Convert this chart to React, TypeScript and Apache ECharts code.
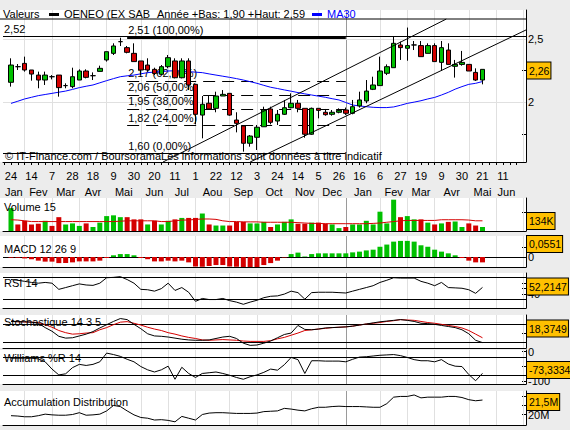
import React, { useEffect, useRef } from 'react';
import * as echarts from 'echarts';

const FONT = '"Liberation Sans", Arial, Helvetica, sans-serif';
const START = Date.UTC(2011, 0, 24);
const WEEK = 7 * 24 * 3600 * 1000;

// ---- price data (weekly candles, 24 Jan 2011 -> 21 May 2012)
const openP = [2.159,2.282,2.308,2.256,2.216,2.177,2.203,2.216,2.133,2.125,
  2.177,2.248,2.211,2.245,2.335,2.387,2.479,2.432,2.387,2.327,
  2.295,2.261,2.222,2.282,2.327,2.195,2.327,2.143,1.901,1.994,
  1.954,2.051,2.072,1.862,1.815,1.679,1.726,1.809,1.949,1.854,
  1.907,1.959,1.994,1.954,1.750,1.954,1.923,1.907,1.923,1.941,
  1.915,1.973,2.012,2.104,2.133,2.230,2.274,2.453,2.427,2.453,
  2.448,2.387,2.448,2.316,2.413,2.285,2.300,2.300,2.237,2.177];
const closeP = [2.295,2.282,2.256,2.224,2.177,2.216,2.203,2.117,2.133,2.203,
  2.248,2.198,2.211,2.269,2.400,2.445,2.479,2.395,2.322,2.256,
  2.256,2.229,2.282,2.353,2.195,2.327,2.138,1.907,1.986,1.949,
  2.051,2.064,1.901,1.836,1.679,1.736,1.805,1.941,1.844,1.907,
  1.959,1.994,1.954,1.750,1.954,1.938,1.904,1.923,1.938,1.915,
  1.967,2.020,2.090,2.138,2.248,2.282,2.466,2.432,2.448,2.453,
  2.361,2.448,2.322,2.432,2.300,2.300,2.316,2.248,2.177,2.261];
const lowP = [2.125,2.256,2.243,2.172,2.112,2.138,2.182,2.046,2.112,2.112,
  2.177,2.190,2.177,2.245,2.322,2.374,2.445,2.387,2.322,2.216,
  2.243,2.216,2.216,2.269,2.190,2.190,2.098,1.828,1.718,1.941,
  1.923,2.051,1.896,1.765,1.613,1.652,1.626,1.809,1.828,1.823,
  1.902,1.954,1.923,1.723,1.745,1.875,1.896,1.896,1.915,1.902,
  1.907,1.960,1.994,2.098,2.133,2.216,2.274,2.335,2.329,2.413,
  2.361,2.387,2.322,2.248,2.300,2.196,2.290,2.248,2.170,2.143];
const highP = [2.348,2.303,2.361,2.256,2.243,2.243,2.216,2.216,2.151,2.274,
  2.261,2.261,2.237,2.290,2.400,2.466,2.510,2.445,2.466,2.327,
  2.348,2.274,2.295,2.374,2.348,2.348,2.348,2.143,2.051,2.051,
  2.085,2.098,2.072,1.923,1.815,1.744,1.823,1.967,1.967,1.941,
  2.020,2.072,2.020,1.954,1.960,1.954,1.949,1.941,1.954,1.960,
  2.020,2.085,2.177,2.203,2.361,2.300,2.518,2.479,2.590,2.484,
  2.484,2.466,2.466,2.484,2.466,2.335,2.406,2.300,2.269,2.261];
const ma30 = [1.993,2.010,2.028,2.041,2.054,2.063,2.072,2.081,2.090,2.103,
  2.117,2.128,2.138,2.155,2.172,2.188,2.203,2.210,2.216,2.226,
  2.235,2.240,2.243,2.248,2.250,2.247,2.243,2.239,2.235,2.225,
  2.216,2.207,2.198,2.188,2.177,2.164,2.151,2.135,2.120,2.110,
  2.099,2.089,2.078,2.068,2.059,2.050,2.041,2.030,2.020,2.000,
  1.980,1.973,1.967,1.962,1.960,1.960,1.965,1.978,1.993,2.003,
  2.014,2.028,2.040,2.059,2.080,2.105,2.125,2.143,2.151,2.165];
// ---- volume (thousands) and its 15-week average
const volumeK = [301,86,134,86,96,134,67,182,86,100,67,100,53,110,196,206,182,182,153,153,
  86,134,86,134,153,172,172,172,230,86,72,72,72,120,120,100,100,120,53,86,
  120,153,96,96,110,110,96,86,38,53,86,86,134,86,254,100,412,182,196,153,
  153,110,86,100,120,125,53,100,72,53];
const volumeMA15 = [148,144,134,124,124,124,124,124,124,124,124,124,124,124,124,124,129,134,134,134,
  134,134,124,124,134,144,144,153,158,158,153,134,124,124,120,120,120,115,115,115,
  115,115,110,105,100,100,96,96,96,96,96,96,96,100,105,115,124,134,139,139,
  139,139,139,148,148,148,148,144,134,134];
// ---- indicators
const macdHist = [-0.003,-0.003,-0.006,-0.009,-0.015,-0.019,-0.019,-0.025,-0.025,-0.022,
  -0.018,-0.018,-0.018,-0.015,-0.004,0.007,0.012,0.012,0.007,-0.004,
  -0.009,-0.018,-0.018,-0.015,-0.018,-0.015,-0.022,-0.039,-0.040,-0.037,
  -0.033,-0.033,-0.039,-0.040,-0.052,-0.051,-0.042,-0.033,-0.025,-0.015,
  -0.002,0.012,0.018,0.002,0.012,0.015,0.015,0.015,0.015,0.015,
  0.019,0.022,0.027,0.030,0.042,0.051,0.063,0.066,0.066,0.063,
  0.048,0.042,0.030,0.022,0.015,0.007,-0.004,-0.015,-0.022,-0.022];
const rsi14 = [66.6,65.3,63.3,61.3,59.9,61.3,59.9,48.6,51.9,55.3,58.6,56.6,55.9,59.9,69.9,70.6,71.9,66.6,59.9,48.6,
  47.9,45.3,49.9,59.9,46.6,51.9,43.3,26.6,31.9,29.9,29.9,31.9,27.9,25.2,21.2,25.2,28.6,33.3,35.9,36.6,
  39.9,45.3,42.6,30.6,42.6,43.3,43.3,43.3,42.6,41.9,45.3,48.6,51.9,55.3,61.3,65.3,69.9,69.3,69.3,69.3,
  63.3,59.9,55.3,61.3,51.9,51.3,50.6,47.9,41.3,52.2];
const stochK = [88.4,87.8,87.2,86.0,82.4,68.0,56.0,39.2,33.2,34.4,40.4,46.4,54.8,66.8,77.6,88.4,98.0,94.4,78.8,64.4,
  47.6,40.4,39.2,36.8,33.2,29.6,27.2,26.0,26.0,27.2,32.0,36.8,39.2,32.0,16.4,9.2,10.4,16.4,23.6,34.4,
  45.2,50.0,75.2,62.0,60.8,63.2,66.8,68.0,69.2,70.4,72.8,76.4,80.0,83.6,87.2,89.6,92.0,94.4,92.0,88.4,
  82.4,81.2,78.8,75.2,71.6,68.0,60.8,47.6,26.0,18.4];
const stochD = [88.4,87.2,86.6,86.0,84.8,77.6,69.2,58.4,51.2,46.4,47.6,50.0,51.2,60.8,68.0,77.6,86.0,87.8,82.4,76.4,
  69.2,63.2,58.4,51.2,46.4,40.4,35.6,32.0,27.2,26.0,27.2,28.4,27.2,26.0,23.6,22.4,22.4,22.4,24.8,30.8,
  35.6,42.8,50.0,58.4,60.8,63.2,65.6,68.0,69.2,70.4,72.8,76.4,80.0,82.4,84.8,88.4,90.8,94.4,93.2,92.0,
  88.4,84.8,82.4,78.8,75.2,71.6,66.8,58.4,46.4,34.4];
const williamsR = [-22.3,-22.3,-22.3,-22.3,-24.7,-34.5,-59.0,-78.6,-74.9,-54.1,-43.1,-46.8,-43.1,-34.5,-5.2,-10.1,-16.2,-26.0,-34.5,-50.5,
  -61.5,-68.8,-61.5,-49.2,-93.3,-52.9,-73.7,-87.2,-73.7,-71.3,-68.8,-73.7,-79.8,-87.2,-93.3,-84.7,-78.6,-70.0,-59.0,-62.7,
  -44.3,-19.8,-27.2,-73.7,-30.9,-30.9,-32.1,-32.1,-32.1,-34.5,-26.0,-18.6,-17.4,-14.9,-12.5,-11.3,-10.1,-13.7,-19.8,-27.2,
  -30.9,-30.9,-34.5,-27.2,-41.9,-49.2,-50.5,-77.4,-98.2,-73.3];
const accDistM = [19.87,19.83,19.75,19.75,19.87,20.04,19.96,19.92,19.92,20.00,20.20,19.92,19.96,20.04,20.40,21.00,20.88,20.40,19.96,19.67,
  19.59,19.39,19.43,19.35,19.19,19.79,19.59,19.39,20.00,20.16,20.20,20.20,20.16,20.12,20.12,20.12,20.16,20.32,20.36,20.40,
  20.68,20.60,20.48,20.40,20.64,20.80,20.80,20.88,20.92,20.88,20.88,20.88,20.84,20.80,20.80,21.20,21.92,22.00,22.00,22.16,
  21.84,21.92,21.92,21.92,22.00,22.00,21.88,21.64,21.52,21.60];

// ---- axis / annotation lists
const dayLabelWeeks = [0,3,6,9,12,15,18,21,24,27,30,33,36,39,42,45,48,51,54,57,60,63,66,69,72];
const monthNames = ['Jan','Fev','Mar','Avr','Mai','Jun','Jul','Aou','Sep','Oct','Nov','Dec'];
const priceTicks = [1.75, 2, 2.25, 2.5];
const priceLabels = [2, 2.5];
const fibPrices = [2.51, 2.17, 2.06, 1.95, 1.82, 1.60];
const fibTexts = ['2,51 (100,00%)', '2,17 (62,00%)', '2,06 (50,00%)', '1,95 (38,00%)', '1,82 (24,00%)', '1,60 (0,00%)'];
const resistance = 2.52;
const fibStartWeek = 17;
const fibEndWeek = 49;
const channelUpper = [[22.25, 1.5315], [63.7, 2.657]];
const channelLower = [[35, 1.5315], [75.37, 2.571]];
const lastValues = ['134K', '0,0551', '52,2147', '18,3749', '-73,3334', '21,5M'];

const XMIN = -1.17;
const XMAX = 75.37;
const TICK_END = 74;
const LEFT = 3;
const RIGHT_EDGE = 526;
const BG = '#ececec';
const GREEN = '#00c000';
const RED = '#d40000';
const YELLOW = '#ffc000';
const GRIDC = '#e0e0e0';

const weekDate = (i: number) => new Date(START + i * WEEK);
const fmt = (v: number | string) => String(v).replace('.', ',');

const PANELS = [
  { top: 10, bottom: 162, min: 1.5315, max: 2.7283 },
  { top: 198, bottom: 231, min: 0, max: 434 },
  { top: 236, bottom: 267, min: -0.041, max: 0.0861 },
  { top: 273, bottom: 308, min: 14.4, max: 78.6 },
  { top: 315, bottom: 348, min: 0.5, max: 109.7 },
  { top: 350, bottom: 384, min: -109.2, max: 5.25 },
  { top: 391, bottom: 425, min: 18.84, max: 22.6 },
];
const boxY = [221, 244, 286.5, 328.5, 370, 402];

function buildMonths() {
  const starts: { i: number; m: number }[] = [];
  for (let i = -6; i <= 80; i++) {
    const d = weekDate(i);
    if (d.getUTCDate() <= 7) starts.push({ i, m: d.getUTCMonth() });
  }
  const gridWeeks = starts.filter(s => s.i > XMIN && s.i < XMAX);
  const labels: { pos: number; name: string }[] = [];
  for (let k = 0; k < starts.length - 1; k++) {
    const a = Math.max(starts[k].i, XMIN);
    const b = Math.min(starts[k + 1].i, TICK_END);
    if (b > a) labels.push({ pos: (a + b) / 2, name: monthNames[starts[k].m] });
  }
  return { gridWeeks, labels };
}

export default function App() {
  const ref = useRef<HTMLDivElement>(null);
  useEffect(() => {
    if (!ref.current) return;
    const chart = echarts.init(ref.current, null, { renderer: 'svg' });
    const n = closeP.length;
    const idx = closeP.map((_, i) => i);
    const { gridWeeks, labels } = buildMonths();
    const monthMap: Record<string, string> = {};
    labels.forEach(l => { monthMap[l.pos.toFixed(3)] = l.name; });
    const weekTicks: number[] = [];
    for (let i = -1; i <= TICK_END; i++) weekTicks.push(i);

    const vGrid = gridWeeks.map(s => ({
      xAxis: s.i,
      lineStyle: { color: s.m === 0 ? '#9a9a9a' : GRIDC, width: 1, type: 'solid' },
    }));

    const grids = PANELS.map(p => ({
      left: LEFT, width: RIGHT_EDGE - LEFT, top: p.top, height: p.bottom - p.top,
      show: false, containLabel: false,
    }));

    const xAxes: any[] = PANELS.map((p, g) => ({
      type: 'value', gridIndex: g, min: XMIN, max: XMAX,
      splitLine: { show: false },
      axisLine: { show: true, onZero: false, lineStyle: { color: '#000', width: 1 } },
      axisTick: g === 0
        ? { show: true, customValues: weekTicks, length: 3, lineStyle: { color: '#000' } }
        : { show: false },
      axisLabel: g === 0
        ? {
            show: true, customValues: dayLabelWeeks, margin: 8,
            color: '#000', fontSize: 11, fontFamily: FONT,
            formatter: (v: number) => String(weekDate(Math.round(v)).getUTCDate()),
          }
        : { show: false },
    }));
    xAxes.push({
      type: 'value', gridIndex: 0, min: XMIN, max: XMAX, position: 'bottom', offset: 16,
      splitLine: { show: false }, axisLine: { show: false }, axisTick: { show: false },
      axisLabel: {
        show: true, customValues: labels.map(l => l.pos), margin: 8,
        color: '#000', fontSize: 11, fontFamily: FONT,
        formatter: (v: number) => monthMap[v.toFixed(3)] || '',
      },
    });

    const yTicks: number[][] = [priceTicks, [250], [-0.04, 0, 0.04], [40, 50, 60], [20, 50, 80], [-100, -50, 0], [20, 21, 22]];
    const yLabels: number[][] = [priceLabels, [], [0], [40], [], [0, -100], [20]];
    const yFmt = [(v: number) => fmt(v), (v: number) => String(v), (v: number) => fmt(v), (v: number) => String(v),
      (v: number) => String(v), (v: number) => String(v), (v: number) => v + 'M'];
    const yAxes = PANELS.map((p, g) => ({
      type: 'value', gridIndex: g, position: 'right', min: p.min, max: p.max,
      splitLine: { show: false },
      axisLine: { show: true, onZero: false, lineStyle: { color: '#000', width: 1 } },
      axisTick: { show: true, inside: true, length: 4, customValues: yTicks[g], lineStyle: { color: '#000' } },
      axisLabel: yLabels[g].length
        ? { show: true, customValues: yLabels[g], margin: 2, color: '#000', fontSize: 11, fontFamily: FONT, formatter: yFmt[g] }
        : { show: false },
    }));

    const black = { color: '#000', width: 1, type: 'solid' };
    const dashed = { color: '#000', width: 1, type: [12, 7] };
    const fibLabel = (t: string) => ({
      show: true, position: 'insideStartTop', formatter: t, color: '#000',
      fontSize: 11, fontFamily: FONT, distance: [1, 2],
    });
    const fibLines: any[] = [
      [{ coord: [XMIN, resistance], lineStyle: black, label: fibLabel('2,52') }, { coord: [XMAX, resistance] }],
    ];
    fibPrices.forEach((p, k) => {
      const style = k === 0 ? { color: '#000', width: 2, type: 'solid' } : k === fibPrices.length - 1 ? black : dashed;
      if (k === fibPrices.length - 1) {
        fibLines.push([{ coord: [XMIN, p], lineStyle: black, label: { show: false } }, { coord: [fibStartWeek, p] }]);
      }
      fibLines.push([{ coord: [fibStartWeek, p], lineStyle: style, label: fibLabel(fibTexts[k]) }, { coord: [fibEndWeek, p] }]);
    });

    const mk = (extra: any[]) => ({
      silent: true, z: 1, symbol: ['none', 'none'], animation: false,
      label: { show: false }, data: [...vGrid, ...extra],
    });
    const hLine = (v: number) => ({ yAxis: v, lineStyle: black });

    const series: any[] = [
      {
        type: 'line', xAxisIndex: 0, yAxisIndex: 0, data: idx.map(i => [i, ma30[i]]),
        symbol: 'none', lineStyle: { color: '#0000ff', width: 1 }, z: 3,
        markLine: mk([
          ...priceLabels.map(p => ({ yAxis: p, lineStyle: { color: GRIDC, width: 1, type: 'solid' } })),
          ...fibLines,
        ]),
      },
      {
        type: 'candlestick', xAxisIndex: 0, yAxisIndex: 0, barWidth: 5, z: 4,
        encode: { x: 0, y: [1, 2, 3, 4] },
        data: idx.map(i => [i, openP[i], closeP[i], lowP[i], highP[i]]),
        itemStyle: { color: GREEN, color0: RED, borderColor: '#000', borderColor0: '#000', borderWidth: 1 },
      },
      { type: 'line', xAxisIndex: 0, yAxisIndex: 0, data: channelUpper, symbol: 'none', lineStyle: { color: '#000', width: 1 }, z: 5 },
      { type: 'line', xAxisIndex: 0, yAxisIndex: 0, data: channelLower, symbol: 'none', lineStyle: { color: '#000', width: 1 }, z: 5 },
      // volume
      {
        type: 'bar', xAxisIndex: 1, yAxisIndex: 1, barWidth: 5, z: 3,
        data: idx.map(i => ({
          value: [i, volumeK[i]],
          itemStyle: { color: i === 0 || closeP[i] >= closeP[i - 1] ? GREEN : RED },
        })),
        markLine: mk([]),
      },
      { type: 'line', xAxisIndex: 1, yAxisIndex: 1, data: idx.map(i => [i, volumeMA15[i]]), symbol: 'none', lineStyle: { color: RED, width: 1 }, z: 4 },
      // macd
      {
        type: 'bar', xAxisIndex: 2, yAxisIndex: 2, barWidth: 5, z: 3,
        data: idx.map(i => ({ value: [i, macdHist[i]], itemStyle: { color: macdHist[i] >= 0 ? GREEN : RED } })),
        markLine: mk([hLine(0)]),
      },
      // rsi
      {
        type: 'line', xAxisIndex: 3, yAxisIndex: 3, data: idx.map(i => [i, rsi14[i]]), symbol: 'none',
        lineStyle: { color: '#000', width: 1 }, z: 3, markLine: mk([hLine(70), hLine(30)]),
      },
      // stochastic
      {
        type: 'line', xAxisIndex: 4, yAxisIndex: 4, data: idx.map(i => [i, stochD[i]]), symbol: 'none',
        lineStyle: { color: RED, width: 1 }, z: 3, markLine: mk([hLine(80), hLine(20)]),
      },
      { type: 'line', xAxisIndex: 4, yAxisIndex: 4, data: idx.map(i => [i, stochK[i]]), symbol: 'none', lineStyle: { color: '#000', width: 1 }, z: 4 },
      // williams
      {
        type: 'line', xAxisIndex: 5, yAxisIndex: 5, data: idx.map(i => [i, williamsR[i]]), symbol: 'none',
        lineStyle: { color: '#000', width: 1 }, z: 3, markLine: mk([hLine(-20), hLine(-80)]),
      },
      // acc dist
      {
        type: 'line', xAxisIndex: 6, yAxisIndex: 6, data: idx.map(i => [i, accDistM[i]]), symbol: 'none',
        lineStyle: { color: '#000', width: 1 }, z: 3, markLine: mk([]),
      },
    ];

    const txt = (text: string, x: number, y: number, extra: any = {}) => ({
      type: 'text', z: 50, style: { text, x, y, fill: '#000', font: `11px ${FONT}`, verticalAlign: 'middle', ...extra },
    });
    const box = (text: string, y: number) => ({
      type: 'text', z: 60,
      style: {
        text, x: 527, y, fill: '#000', font: `10.5px ${FONT}`, verticalAlign: 'middle',
        backgroundColor: YELLOW, borderColor: '#000', borderWidth: 1, padding: [3, 1, 2, 2],
      },
    });
    const graphic: any[] = [
      ...PANELS.map(p => ({ type: 'rect', z: -1, shape: { x: 0, y: p.top, width: RIGHT_EDGE, height: p.bottom - p.top }, style: { fill: '#fff' } })),
      { type: 'line', z: 40, shape: { x1: 0, y1: 19, x2: RIGHT_EDGE, y2: 19 }, style: { stroke: '#000', lineWidth: 1 } },
      txt('Valeurs', 3, 14),
      { type: 'rect', z: 50, shape: { x: 49, y: 13, width: 10, height: 3 }, style: { fill: '#000' } },
      txt('OENEO (EX SAB', 64, 14),
      txt('Année +Bas: 1,90 +Haut: 2,59', 157, 14),
      { type: 'rect', z: 50, shape: { x: 312, y: 13, width: 10, height: 3 }, style: { fill: '#0000ff' } },
      txt('MA30', 327, 14, { fill: '#0000ff' }),
      txt('© IT-Finance.com / BoursoramaLes informations sont données à titre indicatif', 5, 156),
      txt('Volume 15', 4, 207),
      txt('MACD 12 26 9', 4, 249),
      txt('RSI 14', 4, 283),
      txt('Stochastique 14 3 5', 4, 322),
      txt('Williams %R 14', 4, 358),
      txt('Accumulation Distribution', 4, 402),
      box(fmt(closeP[n - 1].toFixed(2)), 70.5),
      ...lastValues.map((t, k) => box(t, boxY[k])),
    ];

    chart.setOption({
      animation: false,
      backgroundColor: BG,
      textStyle: { fontFamily: FONT },
      grid: grids,
      xAxis: xAxes,
      yAxis: yAxes,
      series,
      graphic,
    });
    return () => chart.dispose();
  }, []);
  return <div ref={ref} style={{ position: 'fixed', left: 0, top: 0, width: 570, height: 430 }} />;
}
